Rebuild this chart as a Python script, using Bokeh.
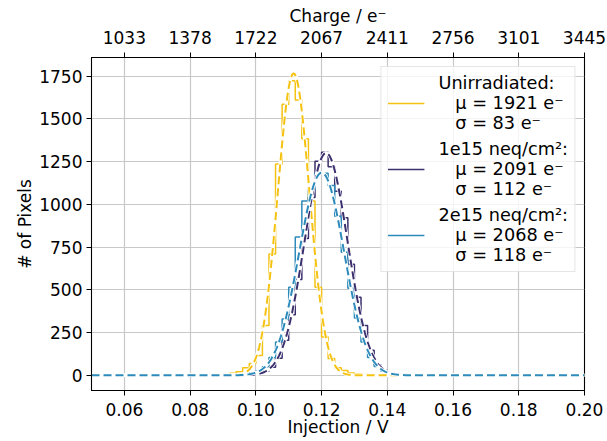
import numpy as np
from bokeh.plotting import figure
from bokeh.models import (Range1d, LinearAxis, FixedTicker, PrintfTickFormatter,
                          Legend, LegendItem)
from bokeh.embed import file_html
from bokeh.resources import INLINE

# Histogram binning (injection voltage, V)
bin_start = 0.050
bin_width = 0.002

# Pixel counts per bin, 0.050 V .. 0.200 V
counts_unirr = [
    0, 0, 0, 0, 0, 0, 0, 0, 0, 0,
    0, 0, 1, 0, 1, 1, 2, 2, 3, 5,
    7, 12, 21, 44, 70, 116, 292, 709, 1236, 1585,
    1723, 1610, 1384, 1019, 515, 224, 99, 45, 28, 14,
    8, 5, 3, 3, 2, 1, 1, 1, 0, 1,
    0, 0, 1, 0, 0, 0, 0, 0, 0, 0,
    0, 0, 0, 0, 0, 0, 0, 0, 0, 0,
    0, 0, 0, 0, 0,
]
counts_1e15 = [
    0, 0, 0, 0, 0, 0, 0, 0, 0, 0,
    0, 0, 0, 1, 0, 1, 1, 1, 1, 2,
    2, 3, 4, 6, 9, 14, 24, 48, 100, 205,
    355, 560, 800, 1040, 1252, 1304, 1220, 1077, 922, 650,
    457, 292, 147, 62, 30, 15, 9, 6, 4, 3,
    2, 2, 1, 2, 1, 1, 1, 0, 1, 1,
    0, 1, 0, 0, 1, 0, 0, 0, 0, 0,
    0, 0, 0, 0, 0,
]
counts_2e15 = [
    0, 0, 0, 0, 0, 0, 0, 0, 0, 0,
    0, 0, 1, 0, 1, 1, 1, 2, 2, 2,
    3, 4, 6, 9, 14, 25, 50, 105, 195, 330,
    515, 809, 1019, 1085, 1182, 1182, 1110, 930, 720, 510,
    335, 195, 105, 52, 26, 13, 8, 5, 4, 3,
    2, 2, 2, 1, 1, 1, 1, 1, 0, 1,
    1, 0, 0, 1, 0, 0, 0, 0, 0, 0,
    0, 0, 0, 0, 0,
]

# Gaussian fit results (charge in electrons) and fitted peak heights
labels = ["Unirradiated:", "1e15 neq/cm\u00b2:", "2e15 neq/cm\u00b2:"]
mu_e = [1921, 2091, 2068]
sigma_e = [83, 112, 118]
fit_height = [1765, 1300, 1185]

# Injection voltage to charge conversion (e- per V)
e_per_volt = 17228

# Axis ticks
x_ticks = [0.06, 0.08, 0.10, 0.12, 0.14, 0.16, 0.18, 0.20]
charge_tick_labels = ["1033", "1378", "1722", "2067", "2411", "2756", "3101", "3445"]
y_ticks = [0, 250, 500, 750, 1000, 1250, 1500, 1750]

colors = ["#F5C211", "#3B2F6E", "#2C8BBA"]
FONT = "DejaVu Sans"
FS = "17px"

p = figure(width=607, height=441, output_backend="svg", toolbar_location=None,
           x_range=Range1d(0.05, 0.20), y_range=Range1d(-88.5, 1858.5),
           min_border_left=91, min_border_right=23,
           min_border_top=57, min_border_bottom=51)
p.background_fill_color = "white"
p.outline_line_color = "black"
p.outline_line_width = 1.1

bottom = p.below[0]
left = p.left[0]

n_bins = len(counts_unirr)
edges = bin_start + bin_width * np.arange(n_bins + 1)

hist_series = [counts_unirr, counts_1e15, counts_2e15]
hist_renderers = []
for counts, c in zip(hist_series, colors):
    r = p.step(edges, list(counts) + [counts[-1]], mode="after",
               line_color=c, line_width=1.5)
    hist_renderers.append(r)

# Gaussian fit curves drawn from the fitted parameters
xs = np.linspace(0.05, 0.20, 800)
for mu, sg, h, c in zip(mu_e, sigma_e, fit_height, colors):
    m_v = mu / e_per_volt
    s_v = sg / e_per_volt
    ys = h * np.exp(-0.5 * ((xs - m_v) / s_v) ** 2)
    p.line(xs, ys, line_color="white", line_width=3.5)
    p.line(xs, ys, line_color=c, line_width=2, line_dash="8 4")

# Axes
bottom.ticker = FixedTicker(ticks=x_ticks)
bottom.formatter = PrintfTickFormatter(format="%.2f")
left.ticker = FixedTicker(ticks=y_ticks)
bottom.axis_label = "Injection / V"
left.axis_label = "# of Pixels"

top = LinearAxis(ticker=FixedTicker(ticks=x_ticks),
                 major_label_overrides={t: s for t, s in zip(x_ticks, charge_tick_labels)},
                 axis_label="Charge / e\u207b")
p.add_layout(top, "above")

for ax in [bottom, left, top]:
    ax.axis_line_color = "black"
    ax.major_tick_line_color = "black"
    ax.major_tick_out = 5
    ax.major_tick_in = 0
    ax.minor_tick_line_color = None
    ax.major_label_text_font = FONT
    ax.major_label_text_font_size = FS
    ax.major_label_text_color = "black"
    ax.axis_label_text_font = FONT
    ax.axis_label_text_font_size = FS
    ax.axis_label_text_font_style = "normal"
    ax.axis_label_text_color = "black"
    ax.major_label_standoff = 4
    ax.axis_label_standoff = 4
top.major_label_standoff = 9
top.axis_label_standoff = 2
bottom.major_label_standoff = 7
bottom.axis_label_standoff = -2
left.axis_label_standoff = 1

p.xgrid.ticker = FixedTicker(ticks=x_ticks)
p.ygrid.ticker = FixedTicker(ticks=y_ticks)
p.grid.grid_line_color = "#c8c8c8"
p.grid.grid_line_width = 1.2

# Legend
items = []
for i, r in enumerate(hist_renderers):
    text = f"{labels[i]}\n   \u03bc = {mu_e[i]} e\u207b\n   \u03c3 = {sigma_e[i]} e\u207b"
    items.append(LegendItem(label=text, renderers=[r]))

legend = Legend(items=items, location="top_right")
legend.margin = 9
legend.padding = 6
legend.spacing = 6
legend.glyph_width = 37
legend.label_standoff = 14
legend.label_text_font = FONT
legend.label_text_font_size = "17.7px"
legend.label_text_color = "black"
legend.label_text_line_height = 1.13
legend.border_line_color = "#cccccc"
legend.border_line_width = 1
legend.background_fill_alpha = 0.8
p.add_layout(legend, "center")

open("out.html", "w").write(file_html(p, INLINE))
